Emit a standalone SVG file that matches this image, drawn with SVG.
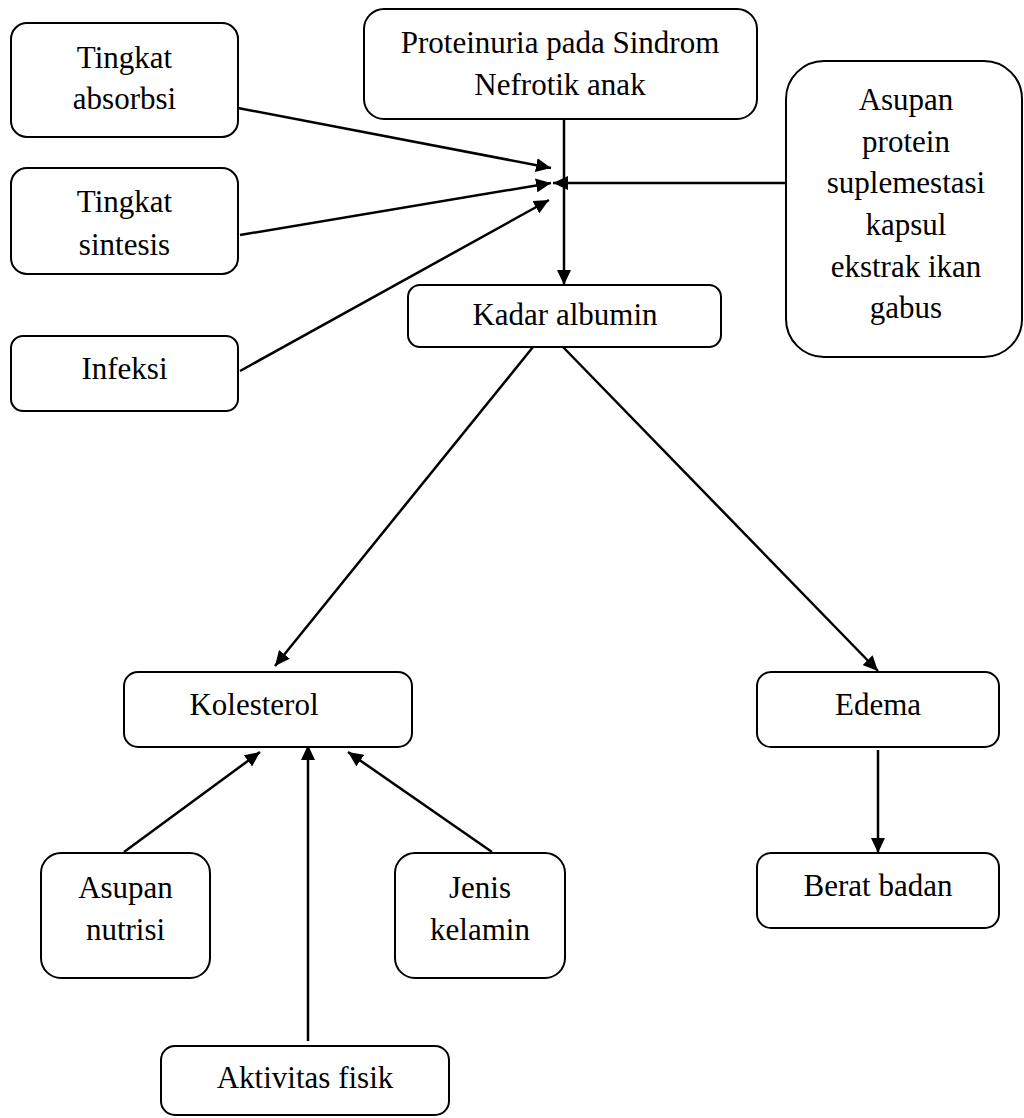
<svg xmlns="http://www.w3.org/2000/svg" width="1024" height="1118" viewBox="0 0 1024 1118">
<style>
.box{fill:#fff;stroke:#000;stroke-width:2}
.t{font-family:'Liberation Serif','DejaVu Serif',serif;font-size:31px;fill:#000;text-anchor:middle}
.c{stroke:#000;stroke-width:2.5;fill:none;marker-end:url(#ah)}
</style>
<defs>
<marker id="ah" markerUnits="userSpaceOnUse" markerWidth="16" markerHeight="14" refX="15" refY="7" orient="auto">
<path d="M0,0 L15,7 L0,14 z" fill="#000"/>
</marker>
</defs>
<rect width="1024" height="1118" fill="#fff"/>
<g id="connectors">
<line class="c" x1="238" y1="108" x2="551" y2="168"/>
<line class="c" x1="240" y1="235" x2="551" y2="183"/>
<line class="c" x1="240" y1="371" x2="549" y2="200"/>
<line class="c" x1="786" y1="183" x2="553" y2="183"/>
<line class="c" x1="564" y1="119" x2="564" y2="285"/>
<line class="c" x1="533" y1="347" x2="275" y2="666"/>
<line class="c" x1="563" y1="347" x2="878" y2="671"/>
<line class="c" x1="124" y1="852" x2="260" y2="752"/>
<line class="c" x1="308" y1="1041" x2="308" y2="745"/>
<line class="c" x1="492" y1="852" x2="348" y2="752"/>
<line class="c" x1="878" y1="750" x2="878" y2="853"/>
</g>
<g id="n-absorbsi"><rect class="box" x="11" y="23" width="227" height="114" rx="16"/><text class="t" x="124.5" y="68">Tingkat</text><text class="t" x="124.5" y="109">absorbsi</text></g>
<g id="n-sintesis"><rect class="box" x="11" y="168" width="227" height="106" rx="16"/><text class="t" x="124.5" y="212">Tingkat</text><text class="t" x="124.5" y="255">sintesis</text></g>
<g id="n-infeksi"><rect class="box" x="11" y="336" width="227" height="75" rx="12"/><text class="t" x="124.5" y="379">Infeksi</text></g>
<g id="n-proteinuria"><rect class="box" x="364" y="9" width="393" height="110" rx="20"/><text class="t" x="560" y="53">Proteinuria pada Sindrom</text><text class="t" x="560" y="95">Nefrotik anak</text></g>
<g id="n-asupan-protein"><rect class="box" x="786" y="61" width="236" height="296" rx="38"/>
<text class="t" x="906" y="110">Asupan</text><text class="t" x="906" y="152">protein</text><text class="t" x="906" y="193">suplemestasi</text><text class="t" x="906" y="235">kapsul</text><text class="t" x="906" y="277">ekstrak ikan</text><text class="t" x="906" y="318">gabus</text></g>
<g id="n-albumin"><rect class="box" x="408" y="285" width="313" height="62" rx="12"/><text class="t" x="565" y="325">Kadar albumin</text></g>
<g id="n-kolesterol"><rect class="box" x="124" y="672" width="288" height="75" rx="14"/><text class="t" x="254" y="715">Kolesterol</text></g>
<g id="n-edema"><rect class="box" x="757" y="672" width="242" height="75" rx="14"/><text class="t" x="878" y="715">Edema</text></g>
<g id="n-berat"><rect class="box" x="757" y="853" width="242" height="75" rx="14"/><text class="t" x="878" y="896">Berat badan</text></g>
<g id="n-nutrisi"><rect class="box" x="41" y="853" width="169" height="125" rx="20"/><text class="t" x="125.5" y="898">Asupan</text><text class="t" x="125.5" y="940">nutrisi</text></g>
<g id="n-kelamin"><rect class="box" x="395" y="853" width="170" height="125" rx="20"/><text class="t" x="480" y="898">Jenis</text><text class="t" x="480" y="940">kelamin</text></g>
<g id="n-aktivitas"><rect class="box" x="161" y="1046" width="288" height="69" rx="14"/><text class="t" x="305" y="1088">Aktivitas fisik</text></g>
</svg>
